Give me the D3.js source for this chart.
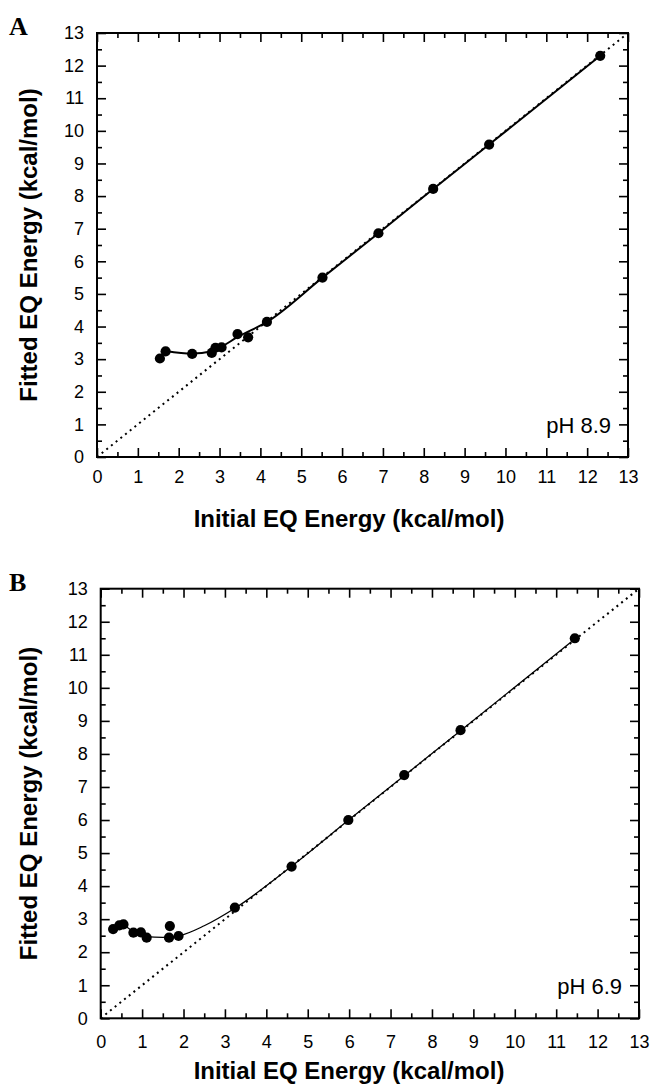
<!DOCTYPE html>
<html>
<head>
<meta charset="utf-8">
<script src="https://cdn.jsdelivr.net/npm/d3@7"></script>
<style>
  html, body { margin: 0; padding: 0; background: #fff; }
  svg { display: block; }
</style>
</head>
<body>
<svg id="chart" width="652" height="1086"></svg>
<script>
// ---------- DATA ----------
const tickValues = [0, 1, 2, 3, 4, 5, 6, 7, 8, 9, 10, 11, 12, 13];
const minorTickValues = [0.5, 1.5, 2.5, 3.5, 4.5, 5.5, 6.5, 7.5, 8.5, 9.5, 10.5, 11.5, 12.5];
const identityLine = [0, 13];

// Panel A (pH 8.9)
const aInitial = [1.54, 1.68, 2.33, 2.81, 2.90, 3.05, 3.44, 3.70, 4.16, 5.52, 6.89, 8.23, 9.60, 12.32];
const aFitted  = [3.02, 3.24, 3.16, 3.19, 3.35, 3.36, 3.77, 3.67, 4.14, 5.50, 6.86, 8.22, 9.58, 12.30];
const aCurveX  = [1.68, 2.33, 2.81, 3.05, 3.44, 4.16, 5.52, 6.89, 8.23, 9.60, 12.32];
const aCurveY  = [3.25, 3.17, 3.24, 3.38, 3.68, 4.14, 5.50, 6.86, 8.22, 9.58, 12.30];

// Panel B (pH 6.9)
const bInitial = [0.30, 0.45, 0.55, 0.79, 0.97, 1.11, 1.65, 1.67, 1.88, 3.24, 4.61, 5.98, 7.33, 8.69, 11.45];
const bFitted  = [2.70, 2.81, 2.84, 2.59, 2.60, 2.44, 2.44, 2.79, 2.49, 3.35, 4.59, 6.00, 7.36, 8.72, 11.50];
const bCurveX  = [0.30, 0.50, 0.80, 1.10, 1.50, 1.90, 2.50, 3.24, 4.61, 5.98, 7.33, 8.69, 11.45];
const bCurveY  = [2.72, 2.83, 2.62, 2.47, 2.45, 2.50, 2.80, 3.33, 4.60, 5.99, 7.34, 8.70, 11.48];

const xTitle = "Initial EQ Energy (kcal/mol)";
const yTitle = "Fitted EQ Energy (kcal/mol)";

// ---------- DRAW ----------
const svg = d3.select("#chart");

function drawPanel(cfg) {
  const g = svg.append("g");
  const x = d3.scaleLinear().domain([0, 13]).range([cfg.left, cfg.right]);
  const y = d3.scaleLinear().domain([0, 13]).range([cfg.bottom, cfg.top]);

  const tickStyle = sel => {
    sel.select(".domain").remove();
    sel.selectAll("line").attr("stroke", "#000").attr("stroke-width", 1.6);
  };

  // major ticks with labels (bottom, left), inward
  const xb = g.append("g").attr("transform", `translate(0,${cfg.bottom})`)
    .call(d3.axisBottom(x).tickValues(tickValues).tickSize(-9).tickPadding(cfg.xPad).tickFormat(d3.format("d")));
  tickStyle(xb);
  const yl = g.append("g").attr("transform", `translate(${cfg.left},0)`)
    .call(d3.axisLeft(y).tickValues(tickValues).tickSize(-9).tickPadding(13).tickFormat(d3.format("d")));
  tickStyle(yl);
  // mirror ticks
  const xt = g.append("g").attr("transform", `translate(0,${cfg.top})`)
    .call(d3.axisTop(x).tickValues(tickValues).tickSize(-9).tickFormat(""));
  tickStyle(xt);
  const yr = g.append("g").attr("transform", `translate(${cfg.right},0)`)
    .call(d3.axisRight(y).tickValues(tickValues).tickSize(-9).tickFormat(""));
  tickStyle(yr);
  // minor ticks
  [[d3.axisBottom(x), `translate(0,${cfg.bottom})`], [d3.axisTop(x), `translate(0,${cfg.top})`],
   [d3.axisLeft(y), `translate(${cfg.left},0)`], [d3.axisRight(y), `translate(${cfg.right},0)`]].forEach(([ax, tr]) => {
    const m = g.append("g").attr("transform", tr)
      .call(ax.tickValues(minorTickValues).tickSize(-5).tickFormat(""));
    tickStyle(m);
  });

  g.selectAll(".tick text")
    .attr("font-family", "Liberation Sans, Arial, sans-serif")
    .attr("font-size", 18).attr("fill", "#000");

  // frame
  g.append("rect")
    .attr("x", cfg.left).attr("y", cfg.top)
    .attr("width", cfg.right - cfg.left).attr("height", cfg.bottom - cfg.top)
    .attr("fill", "none").attr("stroke", "#000").attr("stroke-width", 2);

  // identity dotted line
  g.append("line")
    .attr("x1", x(identityLine[0])).attr("y1", y(identityLine[0]))
    .attr("x2", x(identityLine[1])).attr("y2", y(identityLine[1]))
    .attr("stroke", "#000").attr("stroke-width", 2).attr("stroke-dasharray", "2,4");

  // fit curve
  const curvePts = cfg.curveX.map((v, i) => [v, cfg.curveY[i]]);
  g.append("path")
    .attr("d", d3.line().x(d => x(d[0])).y(d => y(d[1])).curve(d3.curveMonotoneX)(curvePts))
    .attr("fill", "none").attr("stroke", "#000").attr("stroke-width", cfg.lineWidth);

  // points
  const pts = cfg.px.map((v, i) => [v, cfg.py[i]]);
  g.selectAll("circle.pt").data(pts).enter().append("circle")
    .attr("cx", d => x(d[0])).attr("cy", d => y(d[1])).attr("r", 5.1).attr("fill", "#000");

  // pH label
  g.append("text")
    .attr("x", cfg.right - 17).attr("y", cfg.bottom - 24)
    .attr("text-anchor", "end")
    .attr("font-family", "Liberation Sans, Arial, sans-serif")
    .attr("font-size", 22).text(cfg.ph);

  // axis titles
  g.append("text")
    .attr("x", 349).attr("y", cfg.xTitleY)
    .attr("text-anchor", "middle")
    .attr("font-family", "Liberation Sans, Arial, sans-serif")
    .attr("font-weight", "bold").attr("font-size", 24).text(xTitle);
  g.append("text")
    .attr("transform", `translate(${cfg.yTitleX},${(cfg.top + cfg.bottom) / 2}) rotate(-90)`)
    .attr("text-anchor", "middle")
    .attr("font-family", "Liberation Sans, Arial, sans-serif")
    .attr("font-weight", "bold").attr("font-size", 24).text(yTitle);

  // panel letter
  g.append("text")
    .attr("x", 9).attr("y", cfg.letterY)
    .attr("font-family", "Liberation Serif, Times New Roman, serif")
    .attr("font-weight", "bold").attr("font-size", 26).text(cfg.letter);
}

drawPanel({
  left: 97, right: 628, top: 33, bottom: 457,
  px: aInitial, py: aFitted, curveX: aCurveX, curveY: aCurveY,
  lineWidth: 2, ph: "pH 8.9", letter: "A", letterY: 35,
  xTitleY: 527, yTitleX: 37, xPad: 13
});
drawPanel({
  left: 100.7, right: 639, top: 588.7, bottom: 1018.3,
  px: bInitial, py: bFitted, curveX: bCurveX, curveY: bCurveY,
  lineWidth: 1.3, ph: "pH 6.9", letter: "B", letterY: 591,
  xTitleY: 1079, yTitleX: 37, xPad: 17
});
</script>
</body>
</html>
